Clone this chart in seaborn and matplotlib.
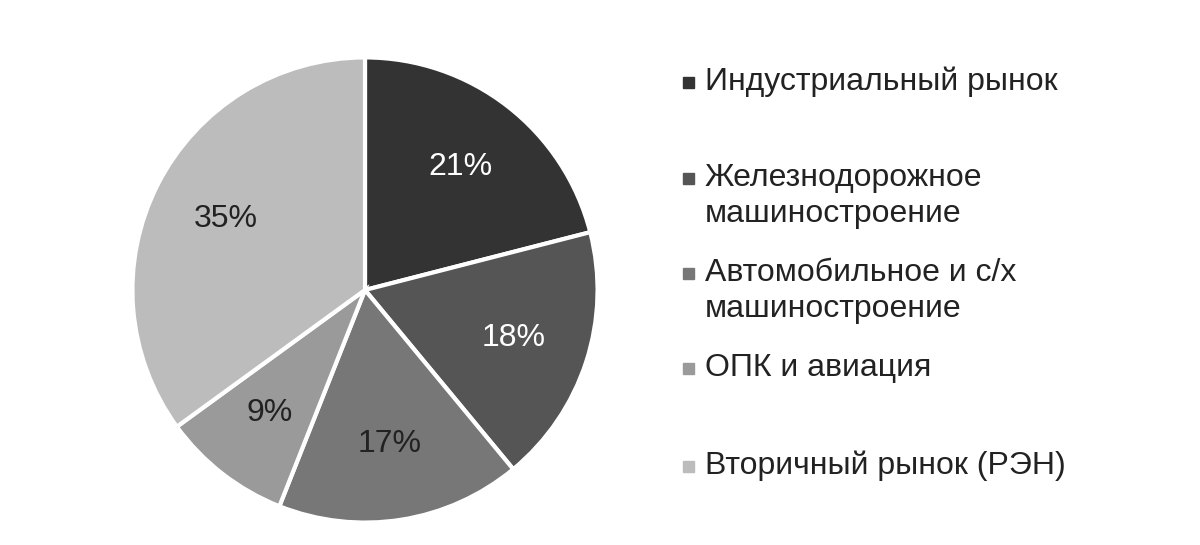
import matplotlib
matplotlib.use("Agg")
import matplotlib.pyplot as plt
import seaborn as sns

sns.set_theme(style="white")
plt.rcParams['font.family'] = ['Liberation Sans', 'DejaVu Sans']

categories = ["Индустриальный рынок", "Железнодорожное\nмашиностроение",
              "Автомобильное и с/х\nмашиностроение", "ОПК и авиация",
              "Вторичный рынок (РЭН)"]
values = [21, 18, 17, 9, 35]
colors = ["#333333", "#555555", "#777777", "#9a9a9a", "#bcbcbc"]
legend_y = [82, 178, 273, 368, 466]

fig = plt.figure(figsize=(12, 5.45), dpi=100)
ax = fig.add_axes([365/1200 - 0.196, 1 - 290/545 - 0.431, 0.392, 0.862])
wedges, texts = ax.pie(values, colors=colors, startangle=90, counterclock=False,
                       labels=[f"{v}%" for v in values], labeldistance=0.67,
                       wedgeprops=dict(edgecolor="white", linewidth=3))
for t, c in zip(texts, colors):
    t.set_fontsize(23)
    t.set_ha("center")
    t.set_color("white" if c in ("#333333", "#555555") else "#222222")
ax.set_xlim(-1.01, 1.01)
ax.set_ylim(-1.01, 1.01)
ax.set_aspect("equal")

for cat, c, y in zip(categories, colors, legend_y):
    fig.patches.append(plt.Rectangle((683/1200, 1 - (y + 6)/545), 11/1200, 11/545,
                                     transform=fig.transFigure, color=c, figure=fig))
    lines = cat.split("\n")
    for i, ln in enumerate(lines):
        fig.text(705/1200, 1 - (y + i * 36)/545, ln, fontsize=23, color="#222222",
                 va="center", ha="left")

fig.savefig("out.png", dpi=100, facecolor="white")
